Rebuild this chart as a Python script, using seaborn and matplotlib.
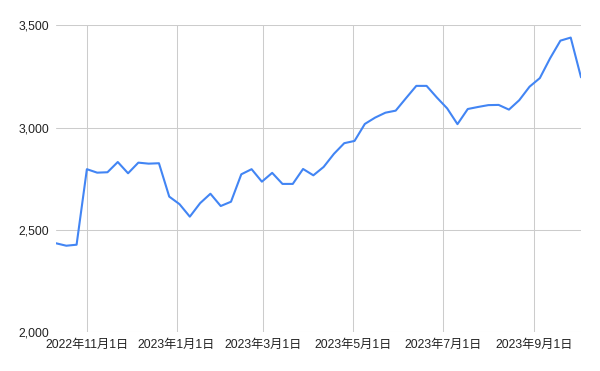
import matplotlib
matplotlib.use("Agg")
import matplotlib.pyplot as plt
import matplotlib.ticker as mticker
import seaborn as sns
import pandas as pd

start_date = "2022-10-11"
values = [2435, 2423, 2428, 2797, 2780, 2782, 2832, 2777, 2829, 2824,
          2826, 2663, 2626, 2565, 2631, 2677, 2617, 2638, 2772, 2797,
          2736, 2779, 2725, 2725, 2798, 2767, 2808, 2872, 2924, 2935,
          3018, 3049, 3073, 3083, 3144, 3204, 3204, 3147, 3094, 3017,
          3091, 3101, 3110, 3111, 3088, 3134, 3200, 3242, 3339, 3425,
          3440, 3246]
y_ticks = [2000, 2500, 3000, 3500]
x_tick_dates = ["2022-11-01", "2023-01-01", "2023-03-01", "2023-05-01",
                "2023-07-01", "2023-09-01"]
x_tick_labels = ["2022年11月1日", "2023年1月1日", "2023年3月1日",
                 "2023年5月1日", "2023年7月1日", "2023年9月1日"]

dates = pd.date_range(start_date, periods=len(values), freq="7D")
df = pd.DataFrame({"date": dates, "value": values})

sns.set_theme(style="white")
plt.rcParams['font.family'] = ['Liberation Sans', 'Noto Sans CJK JP', 'DejaVu Sans']

fig = plt.figure(figsize=(6, 3.71), dpi=100)
ax = fig.add_axes([56/600, 1 - 332.3/371, (581 - 56)/600, 307/371])

sns.lineplot(data=df, x="date", y="value", ax=ax, color="#4285F4",
             linewidth=1.5, zorder=3)

ax.set_xlim(dates[0], dates[-1])
ax.set_ylim(2000, 3500)
ax.set_yticks(y_ticks)
ax.yaxis.set_major_formatter(mticker.FuncFormatter(lambda v, p: f"{int(v):,}"))
ax.set_xticks(pd.to_datetime(x_tick_dates))
ax.set_xticklabels(x_tick_labels)

for s in ax.spines.values():
    s.set_visible(False)
ax.grid(True, color="#cccccc", linewidth=0.75, zorder=0)
ax.tick_params(axis="both", length=0, labelsize=8.8, colors="#222222")
ax.tick_params(axis="y", pad=5)
ax.tick_params(axis="x", pad=5)
ax.set_xlabel("")
ax.set_ylabel("")

fig.savefig("out.png", dpi=100, facecolor="white")
